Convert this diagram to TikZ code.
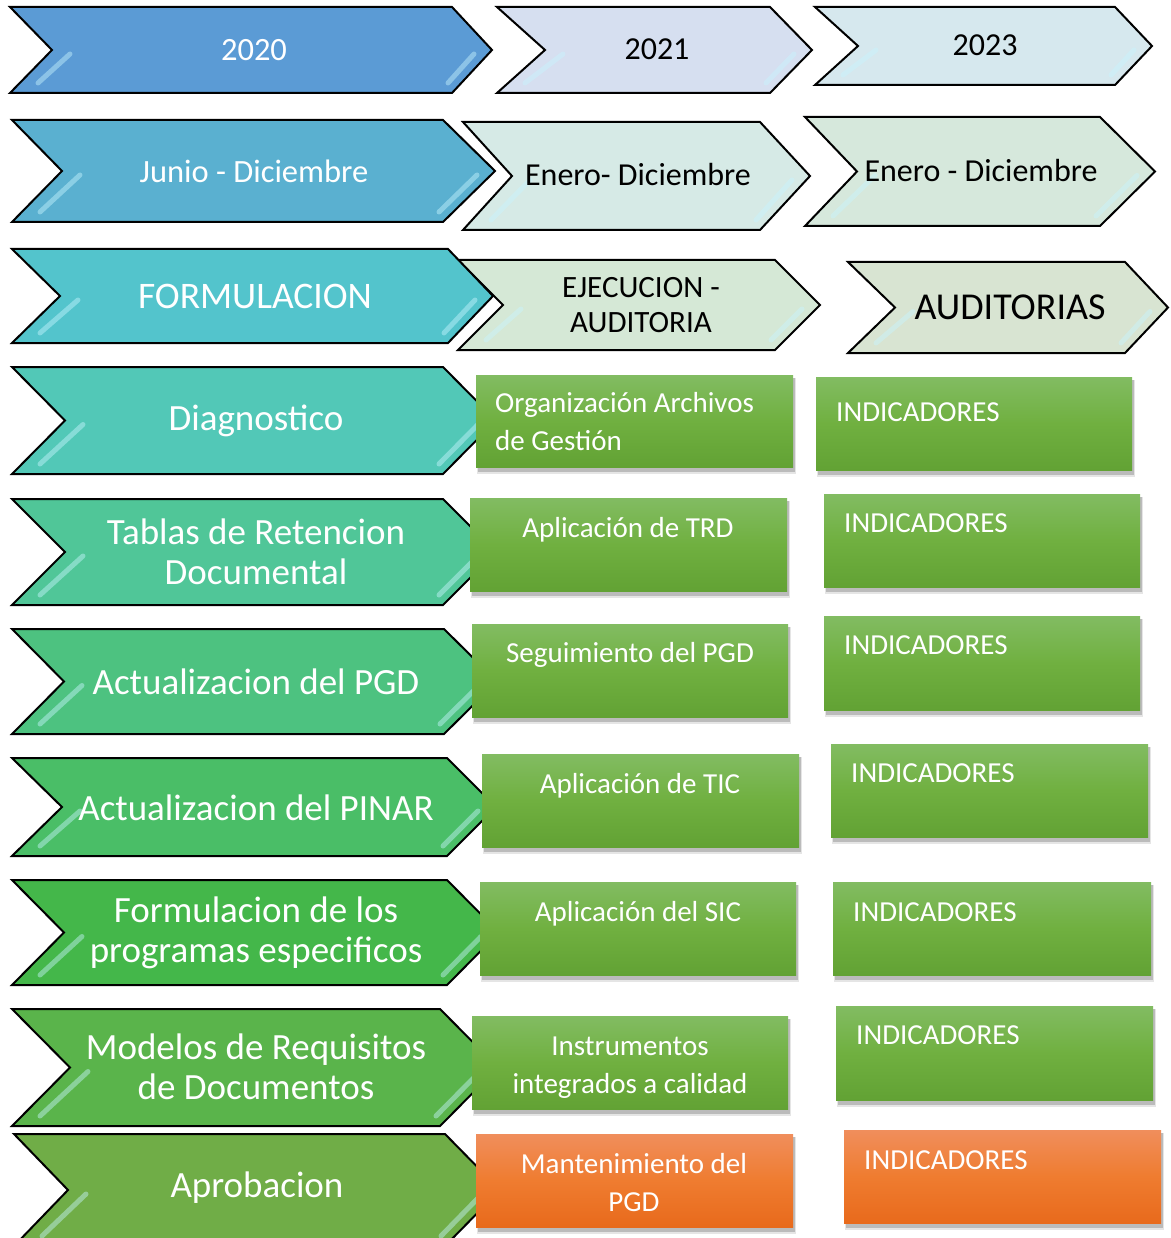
\documentclass[tikz,border=0pt]{standalone}
\usepackage{fontspec}
\setmainfont{Carlito}
\usetikzlibrary{calc}
\definecolor{lc1}{RGB}{91,155,213}
\definecolor{lc2}{RGB}{90,176,208}
\definecolor{lc3}{RGB}{83,196,204}
\definecolor{lc4}{RGB}{82,200,183}
\definecolor{lc5}{RGB}{80,198,152}
\definecolor{lc6}{RGB}{77,194,128}
\definecolor{lc7}{RGB}{74,190,103}
\definecolor{lc8}{RGB}{68,183,74}
\definecolor{lc9}{RGB}{90,180,75}
\definecolor{lc10}{RGB}{112,173,71}
\definecolor{mc1}{RGB}{214,223,240}
\definecolor{mc2}{RGB}{214,234,230}
\definecolor{mc3}{RGB}{213,232,214}
\definecolor{rc1}{RGB}{214,232,238}
\definecolor{rc2}{RGB}{214,232,220}
\definecolor{rc3}{RGB}{216,228,210}
\definecolor{gtop}{RGB}{130,188,98}
\definecolor{gmid}{RGB}{112,176,64}
\definecolor{gbot}{RGB}{98,162,52}
\definecolor{otop}{RGB}{240,142,92}
\definecolor{omid}{RGB}{239,124,48}
\definecolor{obot}{RGB}{232,106,28}
\definecolor{shinec}{RGB}{200,245,255}
\tikzset{
  chevline/.style={draw=black, line width=2pt, line join=miter},
  shine/.style={shinec, opacity=0.45, line width=5pt, line cap=round},
  ltxt/.style={text=white, align=center, inner sep=0pt},
  dtxt/.style={text=black, align=center, inner sep=0pt},
  btxt/.style={text=white, inner sep=0pt, font=\fontsize{29}{38}\selectfont},
}
% #1 xl, #2 yt, #3 xr, #4 yb, #5 notch x, #6 tip x, #7 fill
\newcommand{\chev}[7]{%
  \pgfmathsetmacro\ym{(#2+#4)/2}%
  \filldraw[chevline, fill=#7] (#1,#2) -- (#3,#2) -- (#6,\ym) -- (#3,#4) -- (#1,#4) -- (#5,\ym) -- cycle;
  \draw[shine] (#5+18,\ym+4) -- (#1+28,#4-10);
  \draw[shine] (#6-18,\ym+4) -- (#3-4,#4-10);
}
% #1 x1, #2 y1, #3 x2, #4 y2, #5 top, #6 middle, #7 bottom
\newcommand{\gbox}[7]{%
  \fill[black, opacity=0.10] (#1+1,#2+3) rectangle (#3+3,#4+7);
  \fill[black, opacity=0.18] (#1+2,#2+3) rectangle (#3+2,#4+5);
  \shade[top color=#5, bottom color=#7, middle color=#6] (#1,#2) rectangle (#3,#4);
}
\begin{document}
\begin{tikzpicture}[x=1pt,y=-1pt]
\useasboundingbox (0,0) rectangle (1170,1238);
\fill[white] (0,0) rectangle (1170,1238);
% right column chevrons
\chev{815}{7}{1115}{85}{858}{1152}{rc1}
\chev{805}{117}{1100}{226}{857}{1155}{rc2}
\chev{848}{262}{1125}{353}{895}{1168}{rc3}
% middle column chevrons
\chev{497}{7}{770}{93}{545}{812}{mc1}
\chev{463}{122}{760}{230}{512}{810}{mc2}
\chev{458}{260}{775}{350}{503}{820}{mc3}
% left column chevrons
\chev{10}{7}{452}{93}{52}{492}{lc1}
\chev{12}{120}{443}{222}{62}{495}{lc2}
\chev{12}{249}{448}{343}{60}{493}{lc3}
\chev{12}{367}{443}{474}{65}{496}{lc4}
\chev{12}{499}{443}{605}{65}{496}{lc5}
\chev{12}{629}{444}{734}{64}{497}{lc6}
\chev{12}{758}{447}{856}{62}{496}{lc7}
\chev{12}{880}{447}{985}{64}{499}{lc8}
\chev{12}{1009}{440}{1126}{70}{498}{lc9}
\chev{14}{1134}{445}{1246}{68}{500}{lc10}
% boxes middle
\gbox{476}{375}{793}{467}{gtop}{gmid}{gbot}
\gbox{470}{498}{787}{591}{gtop}{gmid}{gbot}
\gbox{472}{624}{788}{717}{gtop}{gmid}{gbot}
\gbox{482}{754}{799}{847}{gtop}{gmid}{gbot}
\gbox{480}{882}{796}{975}{gtop}{gmid}{gbot}
\gbox{472}{1016}{788}{1109}{gtop}{gmid}{gbot}
\gbox{476}{1134}{793}{1227}{otop}{omid}{obot}
% boxes right
\gbox{816}{377}{1132}{470}{gtop}{gmid}{gbot}
\gbox{824}{494}{1140}{587}{gtop}{gmid}{gbot}
\gbox{824}{616}{1140}{710}{gtop}{gmid}{gbot}
\gbox{831}{744}{1148}{837}{gtop}{gmid}{gbot}
\gbox{833}{882}{1151}{975}{gtop}{gmid}{gbot}
\gbox{836}{1006}{1153}{1100}{gtop}{gmid}{gbot}
\gbox{844}{1130}{1161}{1223}{otop}{omid}{obot}
% left texts
\node[ltxt, font=\fontsize{32.5}{36}\selectfont] (t2020) at (254,50) {2020};
\node[ltxt, font=\fontsize{32.5}{36}\selectfont] (tjun) at (254,171) {Junio - Diciembre};
\node[ltxt, font=\fontsize{37.5}{40}\selectfont] (tform) at (255,296) {FORMULACION};
\node[ltxt, font=\fontsize{37}{40}\selectfont] (tdiag) at (256,421) {Diagnostico};
\node[ltxt, font=\fontsize{37}{40}\selectfont] (ttrd) at (256,552) {Tablas de Retencion\\Documental};
\node[ltxt, font=\fontsize{37}{40}\selectfont] (tpgd) at (256,682) {Actualizacion del PGD};
\node[ltxt, font=\fontsize{37}{40}\selectfont] (tpinar) at (256,808) {Actualizacion del PINAR};
\node[ltxt, font=\fontsize{37}{40}\selectfont] (tprog) at (256,933) {Formulacion de los\\programas especificos};
\node[ltxt, font=\fontsize{37}{40}\selectfont] (tmod) at (256,1067) {Modelos de Requisitos\\de Documentos};
\node[ltxt, font=\fontsize{37}{40}\selectfont] (tapr) at (257,1188) {Aprobacion};
% middle / right chevron texts
\node[dtxt, font=\fontsize{32}{36}\selectfont] (t2021) at (657,49) {2021};
\node[dtxt, font=\fontsize{32}{36}\selectfont] (t2023) at (985,45) {2023};
\node[dtxt, font=\fontsize{32}{36}\selectfont] (tene1) at (638,175) {Enero- Diciembre};
\node[dtxt, font=\fontsize{32}{36}\selectfont] (tene2) at (981,171) {Enero - Diciembre};
\node[dtxt, font=\fontsize{31}{35}\selectfont] (tejec) at (641,305) {EJECUCION -\\AUDITORIA};
\node[dtxt, font=\fontsize{38}{40}\selectfont] (taud) at (1010,307) {AUDITORIAS};
% box texts middle (multi-line nodes: base anchor is last baseline)
\node[btxt, align=left, anchor=base west] (b1) at (495,450) {Organización Archivos\\de Gestión};
\node[btxt, anchor=base] (b2) at (628,537) {Aplicación de TRD};
\node[btxt, anchor=base] (b3) at (630,662) {Seguimiento del PGD};
\node[btxt, anchor=base] (b4) at (640,793) {Aplicación de TIC};
\node[btxt, anchor=base] (b5) at (638,921) {Aplicación del SIC};
\node[btxt, align=center, anchor=base] (b6) at (630,1093) {Instrumentos\\integrados a calidad};
\node[btxt, align=center, anchor=base] (b7) at (634,1211) {Mantenimiento del\\PGD};
% box texts right
\node[btxt, anchor=base west] (i1) at (836,421) {INDICADORES};
\node[btxt, anchor=base west] (i2) at (844,532) {INDICADORES};
\node[btxt, anchor=base west] (i3) at (844,654) {INDICADORES};
\node[btxt, anchor=base west] (i4) at (851,782) {INDICADORES};
\node[btxt, anchor=base west] (i5) at (853,921) {INDICADORES};
\node[btxt, anchor=base west] (i6) at (856,1044) {INDICADORES};
\node[btxt, anchor=base west] (i7) at (864,1169) {INDICADORES};
\end{tikzpicture}
\end{document}
